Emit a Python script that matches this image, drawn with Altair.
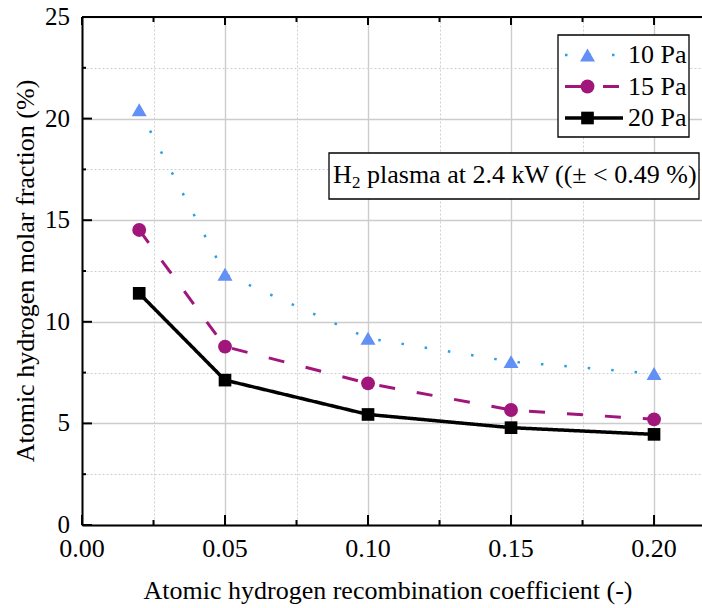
import altair as alt
import pandas as pd

# ---- data ----
coeff = [0.02, 0.05, 0.10, 0.15, 0.20]
pa10 = [20.43, 12.34, 9.19, 8.04, 7.45]
pa15 = [14.52, 8.78, 6.97, 5.66, 5.20]
pa20 = [11.40, 7.13, 5.44, 4.79, 4.46]
series_names = ["10 Pa", "15 Pa", "20 Pa"]

x_major = [0.0, 0.05, 0.10, 0.15, 0.20]
x_minor = [0.025, 0.075, 0.125, 0.175]
y_major = [0, 5, 10, 15, 20, 25]
y_minor = [2.5, 7.5, 12.5, 17.5, 22.5]
x_labels = ["0.00", "0.05", "0.10", "0.15", "0.20"]
y_labels = ["0", "5", "10", "15", "20", "25"]

x_title = "Atomic hydrogen recombination coefficient (-)"
y_title = "Atomic hydrogen molar fraction (%)"
note_parts = ["H", "2", "plasma at 2.4 kW ((± < 0.49 %)"]

# ---- tables ----
rows = []
for name, vals in zip(series_names, [pa10, pa15, pa20]):
    for c, v in zip(coeff, vals):
        rows.append({"coeff": c, "value": v, "series": name})
df = pd.DataFrame(rows)

W, H = 620, 508
FONT = "Liberation Serif"

xs = alt.Scale(domain=[0, 0.21677], nice=False, zero=False)
ys = alt.Scale(domain=[0, 25], nice=False, zero=False)

XMIN = "round(datum.value*40) % 2 == 1"
YMIN = "round(datum.value/2.5) % 2 == 1"

x_axis = alt.Axis(
    values=sorted(x_major + x_minor), title=None, labels=False,
    ticks=False, domainColor="black", domainWidth=2,
    grid=True,
    gridColor={"condition": {"test": XMIN, "value": "#cfcfcf"}, "value": "#cccccc"},
    gridDash={"condition": {"test": XMIN, "value": [2, 2]}, "value": []},
    gridWidth={"condition": {"test": XMIN, "value": 1}, "value": 1.4},
)
y_axis = alt.Axis(
    values=sorted(y_major + y_minor), title=None, labels=False,
    ticks=False, domainColor="black", domainWidth=2,
    grid=True,
    gridColor={"condition": {"test": YMIN, "value": "#cfcfcf"}, "value": "#cccccc"},
    gridDash={"condition": {"test": YMIN, "value": [2, 2]}, "value": []},
    gridWidth={"condition": {"test": YMIN, "value": 1}, "value": 1.4},
)

def X(field):
    return alt.X(field, scale=xs, axis=x_axis)

def Y(field):
    return alt.Y(field, scale=ys, axis=y_axis)

line_colors = ["#2a9fe2", "#a0167b", "#000000"]
point_colors = ["#6390f5", "#a0167b", "#000000"]
dashes = [[2.5, 21], [16, 22], [1, 0]]

leg_common = dict(
    orient="none", title=None, direction="vertical", labelExpr="''",
    labelFontSize=1, clipHeight=30, rowPadding=1.5,
)
line_legend = alt.Legend(
    legendX=476, legendY=18, padding=5, labelOffset=0,
    symbolType="stroke", symbolSize=3364, symbolStrokeWidth=3, **leg_common,
)
point_legend = alt.Legend(
    legendX=498, legendY=23, padding=0,
    symbolSize=170, symbolStrokeWidth=0, symbolOpacity=1, **leg_common,
)

base = alt.Chart(df)

lines = base.mark_line(strokeCap="butt", strokeJoin="round").encode(
    x=X("coeff:Q"),
    y=Y("value:Q"),
    color=alt.Color("series:N", scale=alt.Scale(domain=series_names, range=line_colors), legend=line_legend),
    strokeDash=alt.StrokeDash("series:N", scale=alt.Scale(domain=series_names, range=dashes), legend=line_legend),
    strokeWidth=alt.StrokeWidth("series:N", scale=alt.Scale(domain=series_names, range=[2.5, 3.5, 3]), legend=None),
    detail="series:N",
)

points = base.mark_point(filled=True, opacity=1).encode(
    x=X("coeff:Q"),
    y=Y("value:Q"),
    color=alt.Color("series:N", scale=alt.Scale(domain=series_names, range=point_colors), legend=point_legend),
    shape=alt.Shape("series:N", scale=alt.Scale(domain=series_names, range=["triangle-up", "circle", "square"]), legend=point_legend),
    size=alt.Size("series:N", scale=alt.Scale(domain=series_names, range=[225, 160, 135]), legend=None),
)

# inward ticks and tick labels, drawn from the tick value lists
xmaj = pd.DataFrame({"coeff": x_major, "label": x_labels})
xmin = pd.DataFrame({"coeff": x_minor})
ymaj = pd.DataFrame({"value": y_major, "label": y_labels})
ymin = pd.DataFrame({"value": y_minor})

def xtick(d, y0, y1):
    return alt.Chart(d).mark_rule(color="black", strokeWidth=2).encode(
        x=X("coeff:Q"), y=alt.value(y0), y2=alt.value(y1))

def ytick(d, x0, x1):
    return alt.Chart(d).mark_rule(color="black", strokeWidth=2).encode(
        y=Y("value:Q"), x=alt.value(x0), x2=alt.value(x1))

ticks = [
    xtick(xmaj, H, H - 10), xtick(xmin, H, H - 5),
    xtick(xmaj, 0, 8), xtick(xmin, 0, 5),
    ytick(ymaj, 0, 10), ytick(ymin, 0, 4),
]

txt = dict(font=FONT, color="black")
x_lab = alt.Chart(xmaj).mark_text(align="center", baseline="top", fontSize=26, **txt).encode(
    x=X("coeff:Q"), y=alt.value(H + 11), text="label:N")
y_lab = alt.Chart(ymaj).mark_text(align="right", baseline="middle", fontSize=25, **txt).encode(
    y=Y("value:Q"), x=alt.value(-12), text="label:N")

titles_df = pd.DataFrame({"t": [x_title, y_title]})
x_tit = alt.Chart(titles_df.iloc[[0]]).mark_text(align="center", baseline="middle", fontSize=26, **txt).encode(
    x=alt.value(W / 2 - 4), y=alt.value(574), text="t:N")
y_tit = alt.Chart(titles_df.iloc[[1]]).mark_text(align="center", baseline="middle", fontSize=26, angle=270, **txt).encode(
    x=alt.value(-56), y=alt.value(H / 2), text="t:N")

top_border = alt.Chart(xmin).mark_rule(color="black", strokeWidth=2).encode(
    x=alt.value(0), x2=alt.value(W), y=alt.value(0))

# legend frame and labels
leg_df = pd.DataFrame({"series": series_names})
leg_box = alt.Chart(leg_df.head(1)).mark_rect(fill="white", stroke="black", strokeWidth=1.3).encode(
    x=alt.value(476), x2=alt.value(607), y=alt.value(18), y2=alt.value(120))
leg_labels = [
    alt.Chart(leg_df.iloc[[i]]).mark_text(align="left", baseline="middle", fontSize=26, **txt).encode(
        x=alt.value(546), y=alt.value(38 + 31.5 * i), text="series:N")
    for i in range(len(series_names))
]

note_df = pd.DataFrame({"part": note_parts})
box = alt.Chart(note_df.head(1)).mark_rect(fill="white", stroke="black", strokeWidth=1.3).encode(
    x=alt.value(247), x2=alt.value(617), y=alt.value(136), y2=alt.value(182))
t_h = alt.Chart(note_df.iloc[[0]]).mark_text(align="left", baseline="alphabetic", fontSize=26, **txt).encode(
    x=alt.value(251), y=alt.value(166), text="part:N")
t_2 = alt.Chart(note_df.iloc[[1]]).mark_text(align="left", baseline="alphabetic", fontSize=17, **txt).encode(
    x=alt.value(270), y=alt.value(171), text="part:N")
t_rest = alt.Chart(note_df.iloc[[2]]).mark_text(align="left", baseline="alphabetic", fontSize=26, **txt).encode(
    x=alt.value(285), y=alt.value(166), text="part:N")

chart = alt.layer(
    leg_box, lines, *ticks, top_border, x_lab, y_lab, x_tit, y_tit,
    box, t_h, t_2, t_rest, *leg_labels, points
).resolve_scale(
    color="independent", shape="independent", strokeDash="independent",
    strokeWidth="independent", size="independent",
).properties(
    width=W, height=H,
    autosize=alt.AutoSizeParams(type="none"),
    padding={"left": 82, "top": 17, "right": 0, "bottom": 83},
    background="white",
).configure_view(stroke=None)

chart.save("out.html", embed_options={"renderer": "svg", "actions": False})
